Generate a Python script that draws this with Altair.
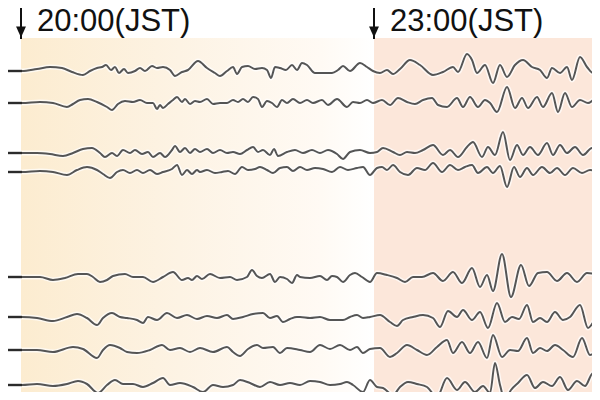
import altair as alt
import pandas as pd

t1_x = [0,22,37,50,62,72,83,90,97,102,106,111,115,119,124,128,135,140,145,152,157,163,170,175,182,188,198,207,215,220,227,233,237,242,248,255,262,267,271,275,280,286,292,297,302,307,315,323,332,338,343,350,360,367,373,380,387,393,400,410,420,433,443,453,458,467,472,477,485,493,500,507,515,523,532,540,547,552,560,567,572,580,587,593,600]
t1_y = [71,71,69,67,68,72,75,71,68,67,65,70,67,73,69,73,71,68,71,66,68,67,70,76,72,70,61,68,73,76,71,67,74,67,66,69,68,70,78,67,68,70,65,70,63,65,73,73,73,70,66,71,63,67,71,73,70,74,69,60,65,75,72,67,72,54,60,73,65,83,65,77,65,60,67,70,78,68,73,67,80,57,67,73,63]

t2_x = [0,22,40,53,67,73,80,88,97,107,112,118,125,133,140,147,153,157,160,163,168,173,177,182,185,190,195,200,207,213,220,227,233,238,243,248,253,258,262,267,272,277,282,287,293,300,307,313,322,328,337,347,353,360,367,373,382,390,398,407,415,423,432,438,447,457,463,470,478,485,490,497,507,515,522,528,537,543,552,558,565,572,580,588,597,600]
t2_y = [103,103,102,103,107,104,100,99,102,107,110,104,101,102,100,103,103,109,105,108,104,100,97,102,99,104,101,102,99,104,103,103,100,102,99,102,97,99,107,101,103,107,100,103,99,103,100,103,100,105,99,107,102,103,100,103,100,105,98,102,104,100,98,105,107,98,107,97,107,100,103,112,87,108,98,108,97,107,93,112,93,107,100,103,98,100]

t3_x = [0,22,37,50,63,73,83,92,100,105,112,117,123,130,135,142,148,153,160,165,172,175,180,185,190,195,200,207,213,220,227,233,240,247,253,258,263,270,274,278,287,295,303,312,320,328,337,343,350,360,370,377,383,393,400,407,415,423,433,443,450,458,467,473,482,488,495,503,510,517,523,530,538,547,553,560,567,575,583,592,600]
t3_y = [153,153,153,154,156,153,149,148,153,157,153,156,150,153,150,154,152,157,153,157,150,146,152,148,153,149,152,149,153,150,153,152,154,150,147,152,150,155,149,156,152,150,153,150,153,150,154,159,152,150,153,152,148,152,155,152,153,150,145,155,150,157,147,142,157,147,155,132,160,145,155,147,155,143,155,145,153,147,155,148,153]

t4_x = [0,22,40,53,67,77,87,97,103,110,117,123,130,137,143,150,157,163,172,177,182,187,192,197,200,207,215,222,228,235,242,248,255,260,267,273,280,287,293,300,307,315,323,332,340,348,357,363,370,377,382,387,393,400,408,417,425,433,442,450,458,465,472,478,487,493,500,507,514,520,527,533,542,550,557,565,573,582,590,600]
t4_y = [172,172,171,172,175,170,167,170,174,178,172,170,173,170,173,170,174,172,169,165,175,170,174,170,172,170,173,172,171,174,167,170,169,167,170,173,168,167,171,167,170,168,169,172,167,170,168,167,175,168,167,170,165,172,175,168,170,163,172,165,170,167,165,173,167,173,166,187,167,177,168,175,167,173,168,175,168,173,170,173]

t5_x = [0,22,40,53,65,78,87,93,100,107,113,125,133,143,153,163,173,182,188,192,197,202,210,220,230,237,247,252,257,262,270,275,280,287,292,297,300,310,320,327,332,337,343,350,355,362,370,377,387,397,405,413,422,433,443,453,462,472,480,487,493,502,511,521,529,538,547,557,567,577,587,600]
t5_y = [277,277,277,280,278,274,274,277,282,280,276,274,277,277,282,277,272,280,278,280,276,279,274,278,277,280,277,270,276,278,274,282,277,279,283,275,277,278,276,280,276,277,282,275,273,277,282,273,275,278,282,277,277,273,281,272,283,268,287,275,291,254,297,265,286,273,272,281,273,282,273,275]

t6_x = [0,22,37,53,67,77,87,97,103,112,120,127,137,143,148,157,167,177,187,197,207,217,227,233,243,253,263,270,277,283,290,297,300,310,320,330,343,350,357,363,370,380,390,397,403,413,423,433,440,448,457,463,472,480,488,497,505,512,519,527,533,540,547,555,563,570,580,588,597,600]
t6_y = [317,317,318,321,317,314,318,325,318,313,317,318,320,323,317,320,313,318,315,319,316,318,315,319,317,314,313,318,316,322,319,317,317,318,317,320,320,317,315,318,317,315,322,326,320,317,315,318,327,311,317,310,320,312,328,303,322,317,319,305,322,318,322,312,320,317,305,328,317,315]

t7_x = [0,22,37,53,73,83,97,103,110,120,127,137,150,162,170,180,190,200,213,227,233,240,248,257,263,273,280,287,300,310,320,330,340,350,357,363,370,380,390,397,407,417,427,437,447,453,462,470,478,487,493,502,510,518,527,533,540,547,555,563,573,582,590,600]
t7_y = [350,350,350,352,347,349,358,350,345,348,352,353,350,345,350,348,352,348,352,347,352,356,349,345,348,347,353,348,350,352,345,349,345,350,347,353,349,348,357,353,345,350,355,347,340,353,342,353,342,358,335,357,350,351,338,353,348,351,345,350,357,338,355,347]

t8_x = [0,22,37,53,67,78,87,98,107,115,123,133,143,153,163,170,180,193,203,213,223,233,240,250,260,270,280,290,300,310,320,330,340,347,353,363,370,377,383,393,400,408,417,427,437,447,457,465,475,483,490,495,500,505,511,518,527,535,543,552,560,568,577,585,593,600]
t8_y = [385,385,384,386,384,381,384,393,385,380,384,384,387,383,378,385,383,387,392,385,387,385,380,383,387,382,385,383,385,381,382,385,384,382,385,392,380,387,388,395,387,382,384,387,397,378,390,382,392,386,393,363,385,400,390,383,375,388,382,386,377,390,381,386,373,385]

# ---- events ----
event_t = [21, 374]
event_labels = ["20:00(JST)", "23:00(JST)"]
record_end = 600

traces = [(t1_x, t1_y), (t2_x, t2_y), (t3_x, t3_y), (t4_x, t4_y),
          (t5_x, t5_y), (t6_x, t6_y), (t7_x, t7_y), (t8_x, t8_y)]

rows = []
for i, (xs, ys) in enumerate(traces):
    for x, y in zip(xs, ys):
        rows.append({"trace": i, "t": x, "v": y})
df = pd.DataFrame(rows)

events = pd.DataFrame({"t": event_t, "label": event_labels})
periods = pd.DataFrame({"start": [event_t[0], event_t[1]], "end": [event_t[1], record_end], "kind": ["a", "b"]})

xscale = alt.Scale(domain=[8, 592], nice=False, zero=False)
yscale = alt.Scale(domain=[8, 392], reverse=True, nice=False, zero=False)

grad = alt.Gradient(
    gradient="linear",
    stops=[alt.GradientStop(color="#fcecd0", offset=0),
           alt.GradientStop(color="#fdf3e4", offset=0.45),
           alt.GradientStop(color="#fffaf4", offset=0.85),
           alt.GradientStop(color="#ffffff", offset=1)],
    x1=0, x2=1, y1=0, y2=0)

bg_a = alt.Chart(periods).transform_filter("datum.kind == 'a'").mark_rect(fill=grad, clip=True).encode(
    x=alt.X("start:Q", scale=xscale, axis=None), x2="end:Q",
    y=alt.YDatum(38, scale=yscale, axis=None), y2=alt.Y2Datum(400))
bg_b = alt.Chart(periods).transform_filter("datum.kind == 'b'").mark_rect(fill="#fce7da", clip=True).encode(
    x=alt.X("start:Q", scale=xscale, axis=None), x2="end:Q",
    y=alt.YDatum(38, scale=yscale, axis=None), y2=alt.Y2Datum(400))

base = alt.Chart(df).encode(
    x=alt.X("t:Q", scale=xscale, axis=None),
    y=alt.Y("v:Q", scale=yscale, axis=None),
    detail="trace:N")
halo = base.mark_line(color="white", strokeWidth=5, opacity=0.7, interpolate="monotone", clip=True)
line = base.mark_line(color="#555555", strokeWidth=2, interpolate="monotone", clip=True)
lead = base.transform_filter("datum.t <= 22").mark_line(color="#2b2b2b", strokeWidth=2.4, clip=True)

shaft = alt.Chart(events).mark_rule(color="#111111", strokeWidth=2).encode(
    x=alt.X("t:Q", scale=xscale, axis=None),
    y=alt.value(0), y2=alt.Y2Datum(31))
head = alt.Chart(events).mark_point(
    shape="M-0.9,-1L0.9,-1L0,1Z", filled=True, color="#111111", opacity=1, size=121, strokeWidth=0).encode(
    x=alt.X("t:Q", scale=xscale, axis=None),
    y=alt.YDatum(32, scale=yscale, axis=None))
labels = alt.Chart(events).mark_text(
    align="left", baseline="alphabetic", dx=16, fontSize=31, font="Liberation Sans", color="#111111").encode(
    x=alt.X("t:Q", scale=xscale, axis=None),
    y=alt.YDatum(31, scale=yscale, axis=None),
    text="label:N")

chart = alt.layer(bg_a, bg_b, halo, line, lead, shaft, head, labels).properties(
    width=584, height=384, padding=0, background="white",
    autosize=alt.AutoSizeParams(type="none")
).configure_view(strokeWidth=0)

chart.save("out.html", embed_options={"renderer": "svg", "actions": False})
